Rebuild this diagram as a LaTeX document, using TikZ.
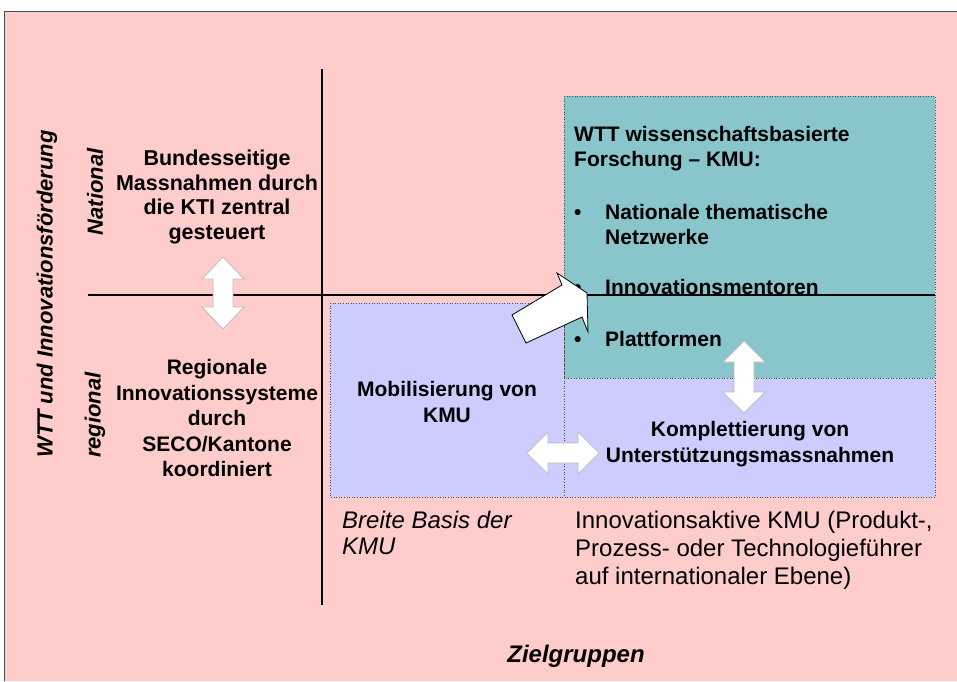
\documentclass[tikz,border=0pt]{standalone}
\usepackage{fontspec}
\setmainfont{Liberation Sans}
\usetikzlibrary{positioning}
\definecolor{rosa}{RGB}{255,204,204}
\definecolor{petrol}{RGB}{136,198,204}
\definecolor{lila}{RGB}{204,204,255}
\tikzset{
	every node/.style={
		inner sep=0pt
	},
	feld/.style={
		draw=gray!60!black,
		dotted,
		line width=0.6pt
	},
	achse/.style={
		line width=2.2pt
	},
	fett/.style={
		font=\fontsize{21}{25.5}\selectfont\bfseries,
		align=center
	},
	fettlinks/.style={
		font=\fontsize{21}{25.5}\selectfont\bfseries,
		align=left
	},
	dimension/.style={
		font=\fontsize{22}{26}\selectfont\bfseries\itshape,
		rotate=90
	},
	gruppe/.style={
		font=\fontsize{24}{28}\selectfont,
		align=left
	},
	blockpfeil/.style={
		fill=white,
		draw=gray!55,
		line width=0.7pt,
		line join=miter
	}
}

\begin{document}
\begin{tikzpicture}[x=1pt,y=-1pt]
	\useasboundingbox (0,0) rectangle (957,681);
	\fill[white] (0,0) rectangle (957,681);
	\fill[rosa] (4,11) rectangle (957,681);
	\draw[gray!60!black,line width=0.8pt] (4,681) -- (4,11) -- (957,11);
	
	% Felder
	\filldraw[feld,fill=petrol] (564,96) rectangle (935,378);
	\filldraw[feld,fill=lila] (330,303) rectangle (564,497);
	\filldraw[feld,fill=lila] (564,378) rectangle (935,497);
	
	% Achsen
	\coordinate (xa) at (88,295);
	\coordinate (xe) at (935,295);
	\coordinate (ya) at (322,69);
	\coordinate (ye) at (322,605);
	\draw[achse] (xa) -- (xe);
	\draw[achse] (ya) -- (ye);
	
	% Beschriftung Achsen
	\node[dimension] (wtt)      at (47,294)  {WTT und Innovationsförderung};
	\node[dimension] (national) at (95,192)  {National};
	\node[dimension] (regional) at (95,415)  {regional};
	\node[font=\fontsize{24}{28}\selectfont\bfseries\itshape] (ziel) at (576,656) {Zielgruppen};
	
	% links
	\node[fett,font=\fontsize{21.5}{24.5}\selectfont\bfseries] (bund) at (217,197) {Bundesseitige\\Massnahmen durch\\die KTI zentral\\gesteuert};
	\node[fett] (region) at (217,418) {Regionale\\Innovationssysteme\\durch\\SECO/Kantone\\koordiniert};
	
	% Felder Texte
	\node[fett] (mobil)   at (447,402) {Mobilisierung von\\KMU};
	\node[fett] (komplet) at (750,444) {Komplettierung von\\Unterstützungsmassnahmen};
	\node[fettlinks,anchor=north west] (wiss) at (574,126) {WTT wissenschaftsbasierte\\Forschung – KMU:};
	\node[fettlinks,anchor=base west] (b1) at (574,219) {•};
	\node[fettlinks,anchor=north west] (netz) at (605,204) {Nationale thematische\\Netzwerke};
	\node[fettlinks,anchor=base west] (b2) at (574,294) {•};
	\node[fettlinks,anchor=base west] (mentor) at (605,294) {Innovationsmentoren};
	\node[fettlinks,anchor=base west] (b3) at (574,346) {•};
	\node[fettlinks,anchor=base west] (platt) at (605,346) {Plattformen};
	
	% unten
	\node[gruppe,font=\fontsize{24}{26}\selectfont\itshape,anchor=north west] (breit) at (342,511) {Breite Basis der\\KMU};
	\node[gruppe,anchor=north west] (aktiv) at (575,511) {Innovationsaktive KMU (Produkt-,\\Prozess- oder Technologieführer\\auf internationaler Ebene)};
	
	% Pfeile
	\draw[blockpfeil] (223,257) -- (244,279) -- (233,279) -- (233,307) -- (244,307) -- (223,329)
		-- (202,307) -- (213,307) -- (213,279) -- (202,279) -- cycle;
	\draw[blockpfeil] (744,341) -- (765,362) -- (754,362) -- (754,392) -- (765,392) -- (744,413)
		-- (723,392) -- (734,392) -- (734,362) -- (723,362) -- cycle;
	\draw[blockpfeil] (527,453) -- (548,432) -- (548,443) -- (578,443) -- (578,432) -- (599,453)
		-- (578,474) -- (578,463) -- (548,463) -- (548,474) -- cycle;
	\draw[fill=white,line width=0.8pt] (526,343) -- (512,315) -- (562,285) -- (557,273) -- (587,293)
		-- (588,332) -- (582,317) -- cycle;
\end{tikzpicture}
\end{document}
